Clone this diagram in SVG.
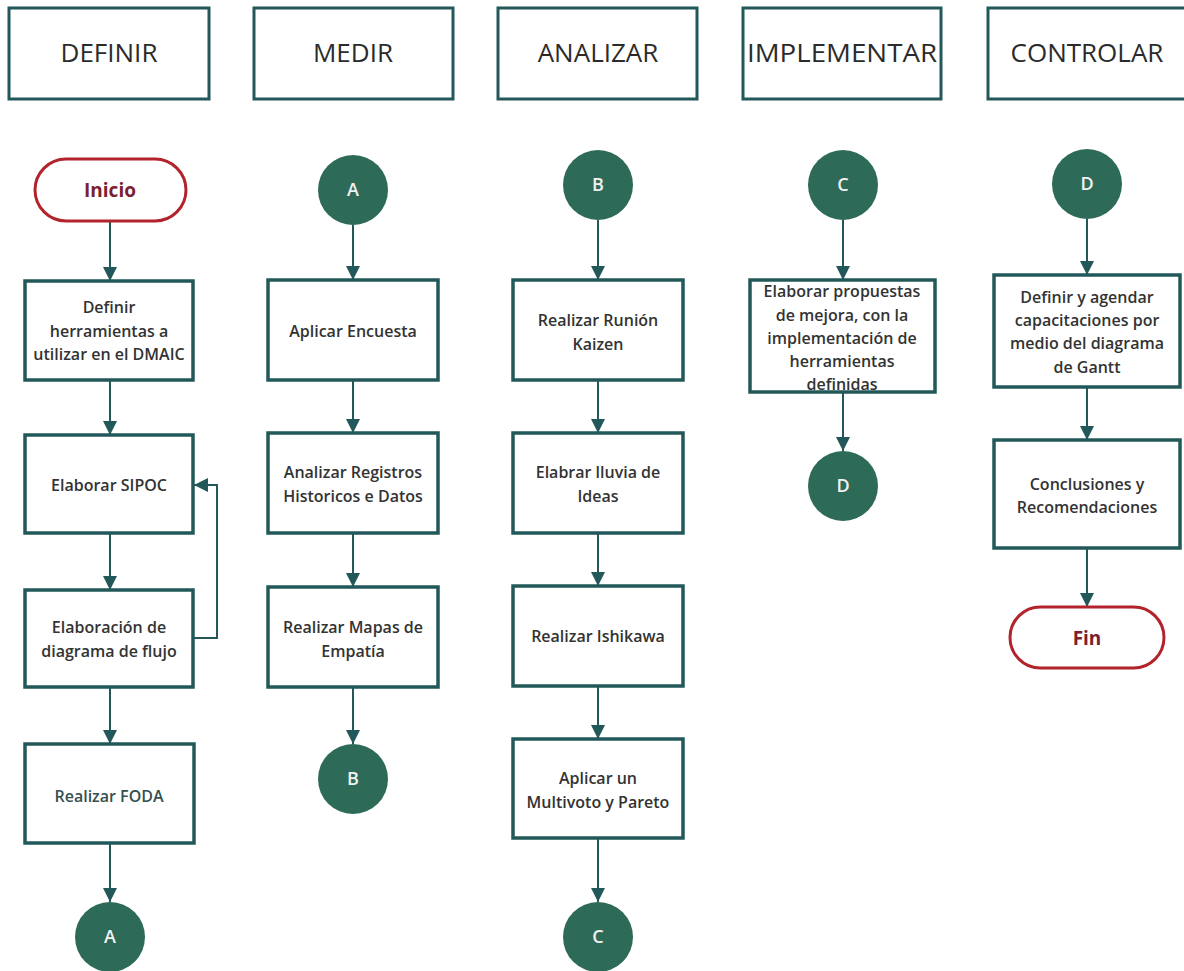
<svg xmlns="http://www.w3.org/2000/svg" width="1184" height="971" viewBox="0 0 1184 971">
  <style>
    .hdr { fill: #ffffff; stroke: #22585a; stroke-width: 3; }
    .hdr-t { font-family: "Open Sans", "Liberation Sans", sans-serif; font-size: 26px; fill: #2b2b2b; text-anchor: middle; }
    .box { fill: #ffffff; stroke: #22585a; stroke-width: 3.5; }
    .box-t { font-family: "Open Sans", "Liberation Sans", sans-serif; font-size: 16px; font-weight: 600; fill: #333333; text-anchor: middle; }
    .term { fill: #ffffff; stroke: #b3232b; stroke-width: 3; }
    .term-t { font-family: "Open Sans", "Liberation Sans", sans-serif; font-size: 19px; font-weight: 700; fill: #7a2030; text-anchor: middle; }
    .conn { fill: #2e6a58; }
    .conn-t { font-family: "Open Sans", "Liberation Sans", sans-serif; font-size: 18px; font-weight: 600; fill: #f2f2f2; text-anchor: middle; }
    .edge { fill: none; stroke: #22585a; stroke-width: 2; marker-end: url(#arrow); }
  </style>
  <defs>
    <marker id="arrow" viewBox="0 0 10 10" refX="10" refY="5" markerWidth="7" markerHeight="7" orient="auto" markerUnits="strokeWidth">
      <path d="M0,0 L10,5 L0,10 Z" fill="#22585a"/>
    </marker>
  </defs>
  <rect width="1184" height="971" fill="#ffffff"/>

  <!-- phase headers -->
  <g id="hdr-definir"><rect class="hdr" x="9" y="8" width="200" height="91"/><text class="hdr-t" x="109" y="62">DEFINIR</text></g>
  <g id="hdr-medir"><rect class="hdr" x="254" y="8" width="199" height="91"/><text class="hdr-t" x="353" y="62">MEDIR</text></g>
  <g id="hdr-analizar"><rect class="hdr" x="498" y="8" width="199" height="91"/><text class="hdr-t" x="598" y="62">ANALIZAR</text></g>
  <g id="hdr-implementar"><rect class="hdr" x="743" y="8" width="198" height="91"/><text class="hdr-t" x="842" y="62" textLength="190" lengthAdjust="spacingAndGlyphs">IMPLEMENTAR</text></g>
  <g id="hdr-controlar"><rect class="hdr" x="988" y="8" width="199" height="91"/><text class="hdr-t" x="1087" y="62">CONTROLAR</text></g>

  <!-- connectors -->
  <g id="connectors">
    <path class="edge" d="M110,221 V281"/>
    <path class="edge" d="M110,380 V435"/>
    <path class="edge" d="M110,533 V590"/>
    <path class="edge" d="M193,638 H217 V485 H194"/>
    <path class="edge" d="M110,687 V744"/>
    <path class="edge" d="M110,843 V902"/>

    <path class="edge" d="M353,225 V280"/>
    <path class="edge" d="M353,380 V433"/>
    <path class="edge" d="M353,533 V587"/>
    <path class="edge" d="M353,687 V744"/>

    <path class="edge" d="M598,220 V280"/>
    <path class="edge" d="M598,380 V433"/>
    <path class="edge" d="M598,533 V586"/>
    <path class="edge" d="M598,686 V739"/>
    <path class="edge" d="M598,838 V902"/>

    <path class="edge" d="M843,220 V280"/>
    <path class="edge" d="M843,392 V451"/>

    <path class="edge" d="M1087,219 V275"/>
    <path class="edge" d="M1087,387 V440"/>
    <path class="edge" d="M1087,548 V607"/>
  </g>

  <!-- DEFINIR column -->
  <g id="inicio"><rect class="term" x="35" y="159" width="151" height="62" rx="31"/><text class="term-t" x="110" y="197">Inicio</text></g>
  <g id="definir-herramientas"><rect class="box" x="25" y="281" width="168" height="99"/>
    <text class="box-t" x="109" y="313">Definir</text>
    <text class="box-t" x="109" y="337">herramientas a</text>
    <text class="box-t" x="109" y="360">utilizar en el DMAIC</text></g>
  <g id="sipoc"><rect class="box" x="25" y="435" width="168" height="98"/>
    <text class="box-t" x="109" y="491">Elaborar SIPOC</text></g>
  <g id="diagrama-flujo"><rect class="box" x="25" y="590" width="168" height="97"/>
    <text class="box-t" x="109" y="633">Elaboración de</text>
    <text class="box-t" x="109" y="657">diagrama de flujo</text></g>
  <g id="foda"><rect class="box" x="25" y="744" width="169" height="99"/>
    <text class="box-t" x="109" y="802" style="fill:#34504f">Realizar FODA</text></g>
  <g id="conn-a-out"><circle class="conn" cx="110" cy="937" r="35"/><text class="conn-t" x="110" y="943">A</text></g>

  <!-- MEDIR column -->
  <g id="conn-a-in"><circle class="conn" cx="353" cy="190" r="35"/><text class="conn-t" x="353" y="196">A</text></g>
  <g id="encuesta"><rect class="box" x="268" y="280" width="170" height="100"/>
    <text class="box-t" x="353" y="337">Aplicar Encuesta</text></g>
  <g id="registros"><rect class="box" x="268" y="433" width="170" height="100"/>
    <text class="box-t" x="353" y="478">Analizar Registros</text>
    <text class="box-t" x="353" y="502">Historicos e Datos</text></g>
  <g id="empatia"><rect class="box" x="268" y="587" width="170" height="100"/>
    <text class="box-t" x="353" y="633">Realizar Mapas de</text>
    <text class="box-t" x="353" y="657">Empatía</text></g>
  <g id="conn-b-out"><circle class="conn" cx="353" cy="779" r="35"/><text class="conn-t" x="353" y="785">B</text></g>

  <!-- ANALIZAR column -->
  <g id="conn-b-in"><circle class="conn" cx="598" cy="185" r="35"/><text class="conn-t" x="598" y="191">B</text></g>
  <g id="kaizen"><rect class="box" x="513" y="280" width="170" height="100"/>
    <text class="box-t" x="598" y="326">Realizar Runión</text>
    <text class="box-t" x="598" y="350">Kaizen</text></g>
  <g id="lluvia-ideas"><rect class="box" x="513" y="433" width="170" height="100"/>
    <text class="box-t" x="598" y="478">Elabrar lluvia de</text>
    <text class="box-t" x="598" y="502">Ideas</text></g>
  <g id="ishikawa"><rect class="box" x="513" y="586" width="170" height="100"/>
    <text class="box-t" x="598" y="642">Realizar Ishikawa</text></g>
  <g id="pareto"><rect class="box" x="513" y="739" width="170" height="99"/>
    <text class="box-t" x="598" y="784">Aplicar un</text>
    <text class="box-t" x="598" y="808">Multivoto y Pareto</text></g>
  <g id="conn-c-out"><circle class="conn" cx="598" cy="937" r="35"/><text class="conn-t" x="598" y="943">C</text></g>

  <!-- IMPLEMENTAR column -->
  <g id="conn-c-in"><circle class="conn" cx="843" cy="185" r="35"/><text class="conn-t" x="843" y="191">C</text></g>
  <g id="propuestas"><rect class="box" x="750" y="280" width="185" height="112"/>
    <text class="box-t" x="842" y="297">Elaborar propuestas</text>
    <text class="box-t" x="842" y="321">de mejora, con la</text>
    <text class="box-t" x="842" y="344">implementación de</text>
    <text class="box-t" x="842" y="367">herramientas</text>
    <text class="box-t" x="842" y="390">definidas</text></g>
  <g id="conn-d-out"><circle class="conn" cx="843" cy="486" r="35"/><text class="conn-t" x="843" y="492">D</text></g>

  <!-- CONTROLAR column -->
  <g id="conn-d-in"><circle class="conn" cx="1087" cy="184" r="35"/><text class="conn-t" x="1087" y="190">D</text></g>
  <g id="capacitaciones"><rect class="box" x="994" y="275" width="186" height="112"/>
    <text class="box-t" x="1087" y="303">Definir y agendar</text>
    <text class="box-t" x="1087" y="326">capacitaciones por</text>
    <text class="box-t" x="1087" y="349">medio del diagrama</text>
    <text class="box-t" x="1087" y="373">de Gantt</text></g>
  <g id="conclusiones"><rect class="box" x="994" y="440" width="186" height="108"/>
    <text class="box-t" x="1087" y="490">Conclusiones y</text>
    <text class="box-t" x="1087" y="513">Recomendaciones</text></g>
  <g id="fin"><rect class="term" x="1010" y="607" width="154" height="61" rx="30.5"/><text class="term-t" x="1087" y="645">Fin</text></g>
</svg>
